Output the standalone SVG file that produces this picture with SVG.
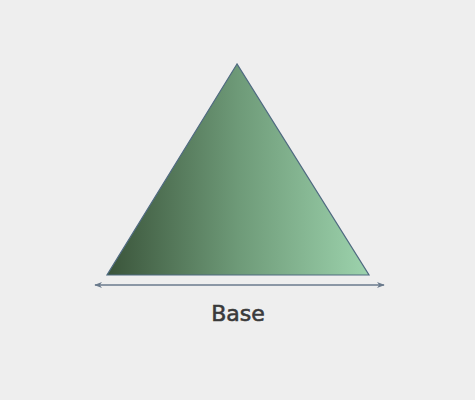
<svg xmlns="http://www.w3.org/2000/svg" width="475" height="400" viewBox="0 0 475 400">
<defs>
<linearGradient id="g" x1="0" y1="0" x2="1" y2="0">
<stop offset="0" stop-color="#3a543a"/>
<stop offset="0.5" stop-color="#6e9a78"/>
<stop offset="1" stop-color="#9dd3ad"/>
</linearGradient>
<marker id="ah" viewBox="0 0 10 10" refX="9" refY="5" markerWidth="8" markerHeight="8" orient="auto-start-reverse" markerUnits="userSpaceOnUse">
<path d="M0,1 L10,5 L0,9 L3,5 Z" fill="#6a7a8c"/>
</marker>
<style>
.lbl{font-family:"Comic Sans MS","DejaVu Sans",sans-serif;font-size:22px;font-weight:normal;fill:#3a3a3a;stroke:#3a3a3a;stroke-width:0.6;text-anchor:middle}
</style>
</defs>
<rect width="475" height="400" fill="#eeeeee"/>
<g id="triangle">
<polygon points="237,64 107,275 369,275" fill="url(#g)" stroke="#4f6a80" stroke-width="1.2"/>
</g>
<g id="connectors">
<line x1="95" y1="285" x2="384" y2="285" stroke="#6a7a8c" stroke-width="1.5" marker-start="url(#ah)" marker-end="url(#ah)"/>
</g>
<g id="label">
<text class="lbl" x="238" y="321">Base</text>
</g>
</svg>
